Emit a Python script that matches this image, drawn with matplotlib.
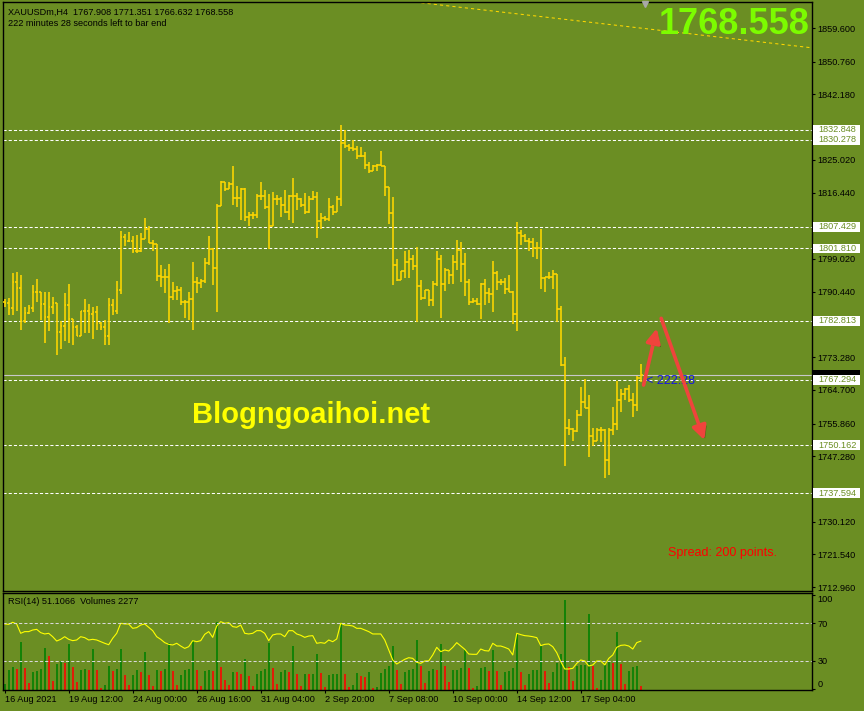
import numpy as np
import matplotlib
matplotlib.use("Agg")
import matplotlib.pyplot as plt
from matplotlib.collections import LineCollection
from matplotlib.patches import Rectangle
import matplotlib.patheffects as pe

plt.rcParams["font.family"] = ["Liberation Sans", "DejaVu Sans"]

BG = "#6B8E23"
W, H = 864, 711

# --- H4 bars, XAUUSDm ---
highs = [
    1788.5, 1788.8, 1795.3, 1795.6, 1794.8, 1786.4, 1786.9, 1792.2, 1793.8, 1790.4,
    1790.4, 1790.4, 1789.0, 1787.5, 1782.7, 1790.1, 1792.4, 1783.3, 1781.7, 1785.4,
    1788.5, 1787.2, 1786.4, 1786.7, 1782.5, 1783.0, 1788.8, 1788.5, 1793.2, 1806.3,
    1805.6, 1806.1, 1805.0, 1805.3, 1805.8, 1809.8, 1807.7, 1804.0, 1803.0, 1797.4,
    1796.4, 1797.7, 1793.0, 1791.9, 1791.7, 1788.3, 1790.4, 1798.2, 1794.3, 1793.8,
    1799.3, 1805.0, 1801.9, 1813.4, 1819.5, 1819.2, 1819.2, 1823.4, 1818.2, 1817.6,
    1817.6, 1811.3, 1811.3, 1816.1, 1819.2, 1817.1, 1816.1, 1816.6, 1815.8, 1815.3,
    1817.1, 1815.8, 1820.3, 1816.3, 1815.0, 1816.3, 1815.5, 1816.8, 1816.6, 1811.1,
    1810.3, 1815.0, 1813.2, 1815.5, 1834.2, 1832.8, 1829.2, 1830.2, 1828.7, 1828.4,
    1827.1, 1824.4, 1823.7, 1823.9, 1827.3, 1823.4, 1817.9, 1815.3, 1799.0, 1795.9,
    1801.1, 1801.4, 1800.1, 1802.2, 1793.5, 1790.9, 1790.9, 1793.2, 1801.1, 1800.1,
    1796.6, 1796.1, 1800.1, 1804.0, 1803.5, 1800.6, 1793.8, 1788.8, 1788.8, 1792.7,
    1793.8, 1791.4, 1798.5, 1795.9, 1793.8, 1794.0, 1794.8, 1790.6, 1808.7, 1806.6,
    1805.6, 1804.5, 1804.5, 1803.5, 1806.9, 1794.3, 1795.6, 1796.1, 1795.2, 1786.7,
    1773.3, 1757.0, 1754.7, 1759.4, 1765.4, 1767.5, 1763.3, 1754.7, 1754.7, 1754.9,
    1754.4, 1754.7, 1760.2, 1767.0, 1764.9, 1765.2, 1766.0, 1763.9, 1768.3, 1771.351,
]
lows = [
    1786.4, 1784.3, 1784.3, 1785.4, 1780.4, 1782.2, 1784.6, 1785.1, 1787.7, 1783.0,
    1777.0, 1780.1, 1784.6, 1773.8, 1775.4, 1777.5, 1777.0, 1776.4, 1778.8, 1778.8,
    1779.6, 1779.6, 1778.0, 1780.4, 1780.4, 1776.4, 1776.4, 1784.3, 1784.6, 1789.8,
    1802.4, 1803.5, 1800.6, 1800.6, 1800.8, 1804.2, 1803.2, 1801.1, 1793.2, 1791.7,
    1790.1, 1782.2, 1788.3, 1788.3, 1786.9, 1783.5, 1783.0, 1780.4, 1790.1, 1791.4,
    1792.7, 1797.4, 1792.2, 1785.1, 1812.9, 1816.8, 1817.4, 1813.2, 1812.6, 1809.2,
    1809.0, 1807.7, 1809.5, 1809.8, 1814.5, 1812.1, 1801.6, 1807.7, 1813.2, 1810.0,
    1811.1, 1809.2, 1808.5, 1811.9, 1812.6, 1810.8, 1811.2, 1814.5, 1804.5, 1806.9,
    1809.0, 1809.0, 1810.6, 1811.3, 1812.9, 1828.1, 1827.3, 1827.3, 1825.2, 1825.8,
    1822.6, 1821.6, 1822.1, 1822.1, 1823.4, 1815.5, 1808.2, 1792.2, 1793.2, 1793.5,
    1794.0, 1794.0, 1796.1, 1782.5, 1788.3, 1788.5, 1786.7, 1786.7, 1791.9, 1783.5,
    1790.6, 1792.4, 1792.4, 1796.1, 1793.0, 1789.3, 1786.9, 1787.5, 1786.9, 1783.3,
    1786.9, 1787.5, 1785.1, 1790.9, 1792.2, 1789.8, 1790.4, 1782.0, 1780.1, 1802.7,
    1803.5, 1801.1, 1799.5, 1799.0, 1791.1, 1790.4, 1793.8, 1791.1, 1782.5, 1770.9,
    1744.7, 1752.8, 1751.3, 1753.6, 1757.8, 1759.9, 1747.1, 1750.0, 1751.3, 1751.0,
    1741.6, 1742.4, 1752.8, 1754.2, 1758.9, 1762.0, 1761.5, 1757.6, 1759.1, 1766.632,
]
closes = [
    1787.5, 1786.2, 1793.0, 1791.4, 1782.7, 1784.8, 1786.2, 1790.4, 1790.4, 1787.2,
    1783.8, 1786.4, 1787.5, 1779.9, 1781.4, 1786.9, 1783.3, 1781.2, 1778.8, 1785.4,
    1785.4, 1784.6, 1785.1, 1782.2, 1781.2, 1778.8, 1786.9, 1785.4, 1790.9, 1804.8,
    1803.7, 1803.7, 1801.1, 1801.1, 1804.3, 1806.9, 1803.2, 1802.9, 1794.5, 1794.3,
    1794.3, 1789.0, 1790.6, 1790.9, 1787.7, 1787.7, 1788.5, 1793.0, 1792.7, 1793.2,
    1798.0, 1801.6, 1796.6, 1812.9, 1819.2, 1817.4, 1818.7, 1815.0, 1815.0, 1817.4,
    1810.0, 1810.6, 1810.6, 1815.5, 1815.5, 1812.6, 1807.7, 1814.7, 1814.7, 1813.2,
    1811.3, 1815.5, 1815.5, 1814.7, 1813.2, 1811.3, 1814.7, 1815.3, 1809.0, 1809.8,
    1809.5, 1812.6, 1811.3, 1814.7, 1829.4, 1828.7, 1828.1, 1827.9, 1826.0, 1826.0,
    1823.7, 1822.1, 1823.4, 1823.7, 1823.4, 1817.9, 1811.1, 1797.4, 1793.5, 1795.9,
    1798.2, 1799.0, 1797.2, 1791.9, 1788.8, 1790.9, 1788.3, 1792.4, 1799.0, 1792.4,
    1796.1, 1794.8, 1798.2, 1801.4, 1797.7, 1793.0, 1787.7, 1788.0, 1787.2, 1792.4,
    1790.1, 1789.8, 1795.3, 1793.0, 1793.0, 1791.1, 1790.4, 1784.6, 1805.8, 1805.0,
    1803.7, 1803.5, 1801.9, 1801.9, 1794.0, 1794.3, 1794.3, 1795.1, 1785.9, 1771.2,
    1754.7, 1754.4, 1753.9, 1758.1, 1761.5, 1759.9, 1752.6, 1751.3, 1754.2, 1754.2,
    1746.3, 1754.2, 1755.7, 1762.0, 1763.6, 1764.9, 1762.0, 1760.7, 1767.908, 1768.558,
]
first_open = 1787.8

volumes = [
    3200, 11400, 12900, 12000, 27200, 12500, 4000, 10300, 10800, 12000,
    23900, 19400, 5100, 14800, 16500, 15400, 26000, 13300, 4600, 11400,
    12200, 11400, 23200, 11400, 1300, 2700, 13500, 10800, 12200, 23200,
    8600, 2900, 8600, 11400, 10300, 21700, 8600, 2300, 11400, 10800,
    12000, 26600, 10800, 2700, 8600, 11400, 12000, 28500, 11400, 2300,
    10800, 11400, 11000, 38800, 12900, 5700, 2900, 10300, 10000, 9100,
    17700, 8000, 2300, 9300, 10800, 12000, 26600, 12500, 3400, 10300,
    11400, 10300, 25100, 9100, 2300, 9100, 8900, 9300, 20500, 9500,
    1700, 8600, 8900, 9100, 38000, 9100, 1500, 2900, 9500, 8000,
    7600, 10500, 1100, 1900, 9500, 12000, 13700, 25100, 11400, 3200,
    10300, 11400, 12000, 28500, 13700, 4000, 10800, 12000, 11500, 26200,
    13700, 4600, 11400, 11600, 12500, 22800, 12500, 1100, 2300, 12500,
    13100, 10800, 22800, 10800, 2900, 10300, 10800, 12500, 31900, 10300,
    2900, 9100, 11400, 11600, 25100, 10800, 4000, 10300, 15400, 20500,
    51300, 13100, 5100, 13700, 14300, 14500, 43300, 13700, 1100, 5700,
    14300, 16000, 15400, 33100, 14800, 3400, 10800, 13100, 13700, 2277,
]

rsi = [
    69.3, 68.9, 71.1, 69.3, 59.4, 61.2, 61.2, 62.9, 63.6, 60.1,
    58.7, 59.4, 55.8, 51.2, 53.0, 55.8, 53.0, 51.6, 52.3, 55.8,
    54.8, 52.3, 53.0, 52.3, 50.5, 48.8, 47.3, 54.1, 59.4, 70.0,
    69.3, 69.3, 64.7, 65.4, 68.2, 69.3, 65.8, 62.2, 55.8, 53.0,
    49.5, 47.7, 47.0, 48.8, 45.9, 43.4, 45.2, 51.6, 50.5, 51.6,
    58.3, 61.2, 55.1, 67.2, 71.8, 70.0, 70.7, 66.5, 65.8, 68.2,
    59.4, 58.7, 59.4, 62.2, 62.2, 59.4, 51.6, 57.6, 58.7, 58.7,
    55.8, 62.2, 62.2, 58.7, 57.3, 55.1, 56.5, 56.9, 48.8, 49.5,
    48.8, 52.3, 50.5, 53.4, 70.0, 68.2, 67.9, 67.2, 64.7, 64.7,
    62.9, 61.2, 58.7, 58.7, 58.7, 52.3, 41.7, 31.1, 26.8, 29.3,
    31.8, 33.5, 32.8, 28.6, 27.5, 30.0, 30.2, 36.4, 44.5, 39.9,
    41.7, 40.6, 44.5, 49.5, 45.9, 42.4, 37.4, 37.1, 37.1, 42.7,
    41.0, 40.6, 48.8, 45.9, 45.9, 44.5, 42.7, 36.4, 59.4, 58.0,
    56.9, 56.5, 55.8, 54.8, 46.3, 47.7, 48.1, 45.2, 38.8, 29.3,
    21.5, 21.5, 22.2, 27.5, 31.1, 30.0, 24.7, 25.8, 30.0, 30.0,
    25.8, 32.8, 36.4, 44.5, 46.6, 47.0, 45.9, 42.7, 49.5, 51.1066,
]

levels = [1832.848, 1830.278, 1807.429, 1801.810, 1782.813, 1767.294, 1750.162, 1737.594]
bid = 1768.558
# scale ticks; the ones sitting under a level label are left without text
price_ticks = [1859.600, 1850.760, 1842.180, 1833.600, 1825.020, 1816.440, 1807.860,
               1799.020, 1790.440, 1781.860, 1773.280, 1764.700, 1755.860, 1747.280,
               1738.700, 1730.120, 1721.540, 1712.960]
hidden_ticks = [1833.600, 1807.860, 1781.860, 1738.700]
date_labels = ["16 Aug 2021", "19 Aug 12:00", "24 Aug 00:00", "26 Aug 16:00", "31 Aug 04:00",
               "2 Sep 20:00", "7 Sep 08:00", "10 Sep 00:00", "14 Sep 12:00", "17 Sep 04:00"]
date_step = 16

# arrows drawn on the chart (bar index, price)
arrow_up = [(159.7, 1765.95), (163.0, 1780.8)]
arrow_down = [(164.1, 1783.45), (174.9, 1751.5)]
trend = [(102.6, 1866.4), (201.8, 1854.4)]

n = len(closes)
idx = np.arange(n)
opens = [first_open] + closes[:-1]

fig = plt.figure(figsize=(W / 100, H / 100), dpi=100, facecolor=BG)


def px_axes(x0, y0, x1, y1):
    return fig.add_axes([x0 / W, 1 - y1 / H, (x1 - x0) / W, (y1 - y0) / H])


def fig_text(x, y, s, **kw):
    return fig.text(x / W, 1 - y / H, s, **kw)


FS = 6.6

# ---------------- main price window ----------------
ax = px_axes(3, 2, 812, 591)
ax.set_facecolor(BG)
ax.set_xlim(-0.42, 201.8)
ax.set_ylim(1711.93, 1866.42)
for sp in ax.spines.values():
    sp.set_color("black")
    sp.set_linewidth(1)
ax.set_xticks([])
ax.yaxis.tick_right()
ax.set_yticks(price_ticks)
ax.set_yticklabels(["" if t in hidden_ticks else f"{t:.3f}" for t in price_ticks])
ax.tick_params(axis="y", direction="out", length=2.2, width=0.8, colors="black",
               labelsize=FS, pad=2)

for lv in levels:
    ax.axhline(lv, color="white", lw=0.75, ls=(0, (3, 2)), zorder=1)
ax.axhline(bid, color="#C8C8C8", lw=0.8, zorder=1)

segs = []
for i in range(n):
    segs.append([(i, lows[i]), (i, highs[i])])
    segs.append([(i - 0.45, opens[i]), (i, opens[i])])
    segs.append([(i, closes[i]), (i + 0.45, closes[i])])
ax.add_collection(LineCollection(segs, colors="#FFD700", linewidths=1.15, zorder=3))

(tx0, ty0), (tx1, ty1) = trend
ax.plot([tx0, tx1], [ty0, ty1], color="#FFD700", lw=0.75, ls=(0, (3, 3)), zorder=2)
ax.plot([160.1], [1865.9], marker="v", color="#A8A8A8", ms=4.5, clip_on=False, zorder=4)

# price labels on the right scale (bid box mostly covered by the 1767.294 label)
ytr = ax.get_yaxis_transform()
box_h = 2.5
ax.add_patch(Rectangle((1.0012, bid - box_h / 2), 0.0581, box_h, transform=ytr,
                       fc="black", ec="none", clip_on=False, zorder=5))
for lv in levels:
    ax.add_patch(Rectangle((1.0012, lv - box_h / 2), 0.0581, box_h, transform=ytr,
                           fc="white", ec="none", clip_on=False, zorder=7))
    ax.text(1.0074, lv, f"{lv:.3f}", transform=ytr, color="#6B8E23", fontsize=FS,
            va="center", ha="left", clip_on=False, zorder=8)

ax.text(160.3, 1767.0, "< 222:28", color="#1414E6", fontsize=9, va="center", ha="left", zorder=4)

for (xa, ya), (xb, yb) in [arrow_up, arrow_down]:
    ann = ax.annotate("", xy=(xb, yb), xytext=(xa, ya),
                      arrowprops=dict(arrowstyle="-|>,head_length=0.7,head_width=0.35",
                                      color="#F0443C", lw=2.6, shrinkA=0, shrinkB=0,
                                      mutation_scale=12), zorder=6)
    ann.arrow_patch.set_path_effects([pe.SimplePatchShadow(offset=(1.5, -1.5),
                                                           shadow_rgbFace="#3A4A10", alpha=0.6),
                                      pe.Normal()])

# ---------------- RSI / volumes window ----------------
ax_r = px_axes(3, 593, 812, 690)
ax_v = ax_r.twinx()
ax_r.set_zorder(ax_v.get_zorder() + 1)
ax_r.patch.set_visible(False)
ax_v.axis("off")

vol_colors = ["#008000" if (i == 0 or volumes[i] > volumes[i - 1]) else "#FF0000" for i in range(n)]
ax_v.vlines(idx, 0, volumes, colors=vol_colors, lw=1.15)
ax_v.set_ylim(0, max(volumes) * 97 / 90)

ax_r.plot(idx, rsi, color="#FFFF00", lw=0.8)
for lv in (70, 30):
    ax_r.axhline(lv, color="#D8D8D8", lw=0.75, ls=(0, (3, 2)))
ax_r.set_xlim(-0.42, 201.8)
ax_v.set_xlim(-0.42, 201.8)
ax_r.set_ylim(-0.8, 102.2)
for sp in ax_r.spines.values():
    sp.set_color("black")
    sp.set_linewidth(1)
ax_r.yaxis.tick_right()
ax_r.set_yticks([100, 70, 30, 0])
ax_r.set_yticklabels(["100", "70", "30", "0"])
ax_r.tick_params(axis="y", direction="out", length=2.2, width=0.8, colors="black",
                 labelsize=FS, pad=2)
ylabs = ax_r.get_yticklabels()
ylabs[0].set_va("top")
ylabs[-1].set_va("bottom")

ax_r.set_xticks(idx[::date_step][:len(date_labels)])
ax_r.set_xticklabels(date_labels, ha="left")
ax_r.tick_params(axis="x", direction="out", length=2.2, width=0.8, colors="black",
                 labelsize=FS, pad=1.5)

# ---------------- texts ----------------
fig_text(8, 12, "XAUUSDm,H4  1767.908 1771.351 1766.632 1768.558", fontsize=FS, va="center")
fig_text(8, 23, "222 minutes 28 seconds left to bar end", fontsize=FS, va="center")
fig_text(810, 25, f"{bid:.3f}", fontsize=26, color="#7CFC00", ha="right", va="center",
         fontweight="bold")
fig_text(311, 415, "Blogngoaihoi.net", fontsize=21, color="#FFFF00", ha="center", va="center",
         fontweight="bold")
fig_text(668, 553, "Spread: 200 points.", fontsize=9, color="#FF0000", ha="left", va="center")
fig_text(8, 602, "RSI(14) 51.1066  Volumes 2277", fontsize=FS, va="center")

fig.savefig("out.png", dpi=100, facecolor=BG)
